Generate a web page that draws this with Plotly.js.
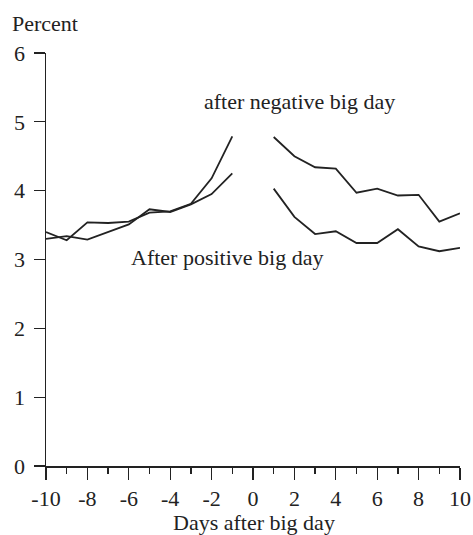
<!DOCTYPE html>
<html>
<head>
<meta charset="utf-8">
<script src="https://cdn.plot.ly/plotly-3.0.1.min.js"></script>
<style>html,body{margin:0;padding:0;background:#fff;}#chart{width:473px;height:535px;}</style>
</head>
<body>
<div id="chart"></div>
<script>
// Days relative to the big day (0 = the big day itself, no value)
const days = [-10,-9,-8,-7,-6,-5,-4,-3,-2,-1,0,1,2,3,4,5,6,7,8,9,10];
// Percent, after negative big day
const negativeSeries = [3.40,3.28,3.54,3.53,3.55,3.68,3.70,3.81,4.18,4.79,null,4.78,4.50,4.34,4.32,3.97,4.03,3.93,3.94,3.55,3.67];
// Percent, after positive big day
const positiveSeries = [3.30,3.34,3.29,3.40,3.51,3.73,3.69,3.80,3.95,4.25,null,4.03,3.62,3.37,3.41,3.24,3.24,3.44,3.19,3.12,3.17];
const xTickVals = [-10,-8,-6,-4,-2,0,2,4,6,8,10];
const xTickText = ["-10","-8","-6","-4","-2","0","2","4","6","8","10"];
const yTickVals = [0,1,2,3,4,5,6];
const yTickText = ["0","1","2","3","4","5","6"];

const ink = "#222";
const font = "Liberation Serif, Times New Roman, serif";

const traces = [
  {x: days, y: negativeSeries, mode: "lines", connectgaps: false, line: {color: ink, width: 1.8}, hoverinfo: "skip"},
  {x: days, y: positiveSeries, mode: "lines", connectgaps: false, line: {color: ink, width: 1.8}, hoverinfo: "skip"}
];

const layout = {
  width: 473, height: 535,
  margin: {l: 46, r: 13, t: 53, b: 69},
  paper_bgcolor: "#fff", plot_bgcolor: "#fff",
  showlegend: false,
  font: {family: font, size: 22, color: ink},
  xaxis: {
    range: [-10, 10], showgrid: false, zeroline: false,
    showline: true, linecolor: ink, linewidth: 1.5,
    ticks: "outside", ticklen: 12, tickwidth: 1.3, tickcolor: ink,
    tickmode: "array", tickvals: xTickVals, ticktext: xTickText,
    tickfont: {family: font, size: 22, color: ink},
    minor: {tickmode: "linear", tick0: -10, dtick: 1, ticks: "outside", ticklen: 6, tickwidth: 1.3, tickcolor: ink, showgrid: false}
  },
  yaxis: {
    range: [0, 6], showgrid: false, zeroline: false,
    showline: true, linecolor: ink, linewidth: 1.5,
    ticks: "outside", ticklen: 11, tickwidth: 1.3, tickcolor: ink,
    tickmode: "array", tickvals: yTickVals, ticktext: yTickText,
    ticklabelstandoff: 4,
    tickfont: {family: font, size: 22, color: ink}
  },
  annotations: [
    {text: "after negative big day", x: 2.26, y: 5.30, xref: "x", yref: "y", showarrow: false, xanchor: "center", yanchor: "middle", font: {family: font, size: 22, color: ink}},
    {text: "After positive big day", x: -1.25, y: 3.03, xref: "x", yref: "y", showarrow: false, xanchor: "center", yanchor: "middle", font: {family: font, size: 22, color: ink}},
    {text: "Percent", x: -0.087, y: 1.072, xref: "paper", yref: "paper", showarrow: false, xanchor: "left", yanchor: "middle", font: {family: font, size: 22, color: ink}},
    {text: "Days after big day", x: 0.502, y: -0.138, xref: "paper", yref: "paper", showarrow: false, xanchor: "center", yanchor: "middle", font: {family: font, size: 22, color: ink}}
  ]
};

Plotly.newPlot("chart", traces, layout, {staticPlot: true, displayModeBar: false});
</script>
</body>
</html>
